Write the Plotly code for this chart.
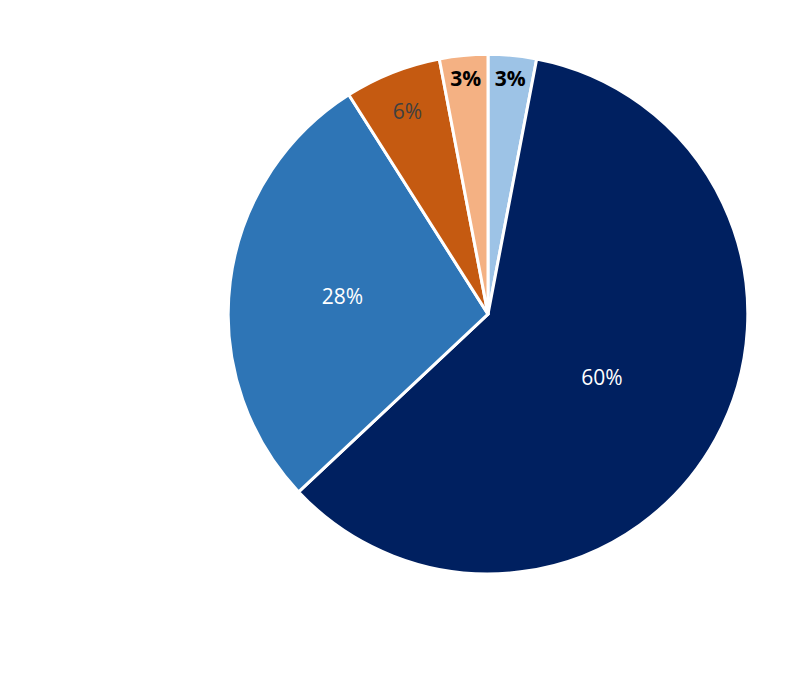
import plotly.graph_objects as go

labels = ["0-18 ani", "19-50 ani", "51-69 ani", "≥ 70 ani", "în curs de<br>colectare"]
values = [3, 60, 28, 6, 3]
colors = ["#9dc3e6", "#002060", "#2e75b6", "#c55a11", "#f4b183"]
text_colors = ["#000000", "#ffffff", "#ffffff", "#404040", "#000000"]
texts = ["<b>3%</b>", "60%", "28%", "6%", "<b>3%</b>"]

fig = go.Figure()
fig.add_trace(go.Pie(
    labels=labels, values=values, sort=False, direction="clockwise", rotation=0,
    marker=dict(colors=colors, line=dict(color="white", width=3)),
    text=texts, textinfo="text", textposition="inside",
    insidetextorientation="horizontal",
    textfont=dict(color=text_colors, size=21, family="Open Sans"),
    domain=dict(x=[0.275, 0.925], y=[0.169, 0.932]),
    showlegend=False,
))

# legend drawn by hand to keep the wide spacing
legend_y = [106, 205, 301, 398, 513]
for lab, c, y in zip(labels, colors, legend_y):
    sq_y = y - 17 if "<br>" in lab else y
    fig.add_annotation(x=42, y=sq_y, text="■", showarrow=False,
                       font=dict(color=c, size=15), xanchor="left", yanchor="middle")
    fig.add_annotation(x=64, y=y, text=lab, align="left", showarrow=False,
                       font=dict(color="#404040", size=20, family="Open Sans"),
                       xanchor="left", yanchor="middle")

fig.add_annotation(x=12, y=638, text="<b>Vârstă medie ≈ 45 ani.</b>", showarrow=False,
                   font=dict(color="#f0201c", size=46, family="Liberation Serif"),
                   xanchor="left", yanchor="middle")

fig.add_shape(type="rect", x0=8, y0=7, x1=782, y1=589, line=dict(color="#d0d0d0", width=2))

# pixel-style coordinates for annotations/shapes
fig.update_layout(
    width=800, height=681, margin=dict(l=0, r=0, t=0, b=0),
    paper_bgcolor="white", plot_bgcolor="white",
    xaxis=dict(range=[0, 800], visible=False, domain=[0, 1]),
    yaxis=dict(range=[681, 0], visible=False, domain=[0, 1]),
    uniformtext=dict(minsize=21, mode="show"),
)
fig.write_html("out.html")
